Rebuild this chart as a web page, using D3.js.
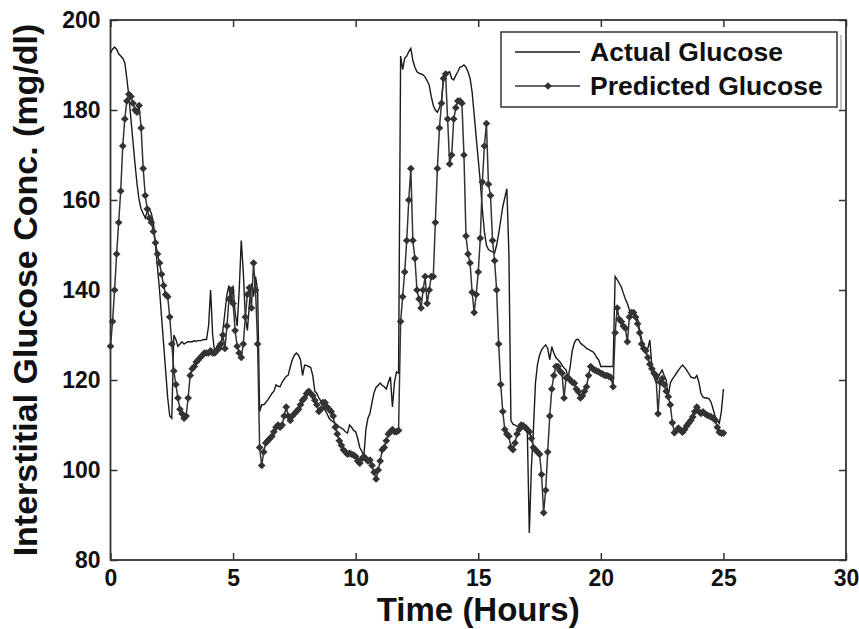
<!DOCTYPE html>
<html>
<head>
<meta charset="utf-8">
<script src="https://cdn.jsdelivr.net/npm/d3@7"></script>
<style>
  body { margin: 0; background: #fff; }
  text { font-family: "Liberation Sans", Arial, sans-serif; font-weight: bold; fill: #111; }
</style>
</head>
<body>
<div id="chart"></div>
<script>
const width = 859, height = 629;
const margin = { top: 20, right: 13, bottom: 69, left: 110.5 };

// CGM readings, one every 5 minutes from t = 0 h
const sampleMinutes = 5;
const xTicks = [0, 5, 10, 15, 20, 25, 30];
const yTicks = [80, 100, 120, 140, 160, 180, 200];
const seriesNames = ["Actual Glucose", "Predicted Glucose"];

const actual = [
  192.7, 193.5, 194, 193.5, 192.5, 192, 191.5, 190.5, 187, 183,
  178, 173, 168, 163.5, 160, 158, 157, 156, 157.5, 158,
  157, 155, 150, 145, 140, 134, 128, 122, 116, 112,
  111.5, 130, 129, 127.5, 128, 128.5, 128, 128.3, 128.5, 128.5,
  128.5, 128.7, 128.6, 128.8, 128.7, 128.9, 129, 129, 132, 140,
  130, 126, 127.5, 128, 127, 131, 135, 139, 141, 137,
  141, 135, 132, 140, 151, 144, 134, 131, 137, 141.5,
  138.5, 143, 140, 113, 114.5, 114.5, 115, 115.6, 116.3, 117,
  117.5, 118.9, 118.6, 118.5, 119.5, 120.2, 120.8, 121.1, 123, 124.5,
  125.5, 126, 125.5, 124.5, 121, 123.3, 123.2, 123, 122.8, 121,
  117.5, 117, 116, 115.3, 114.3, 113.3, 112.5, 111.5, 111, 110.7,
  110.4, 110, 109.6, 109.3, 109, 108.5, 108.2, 110, 109.5, 108.8,
  108.5, 107, 105, 104.2, 103, 109, 111.5, 112.6, 115, 117.2,
  118.4, 118.8, 119.3, 118.8, 118.5, 118, 119.5, 120.7, 114, 119.5,
  121.8, 121.5, 192, 189, 191.5, 192, 193, 193.7, 191, 189.5,
  188.5, 188.2, 188, 187.8, 187.3, 186.5, 185.5, 183, 181, 180,
  179.5, 180.5, 182, 187.4, 188.5, 188.3, 188.5, 187, 186.7, 187.7,
  188.5, 189.5, 189.7, 190, 189.5, 188.5, 187, 184, 179, 174,
  169, 164, 158, 153, 150, 149, 148.7, 148.5, 148.2, 150,
  152.5, 155.5, 158.5, 160.5, 162.5, 148, 111, 110.2, 110, 109.7,
  109.6, 110, 110.4, 109.5, 108.9, 86, 100.5, 109, 119.3, 123.5,
  125.5, 126.7, 127.3, 127.8, 127, 124.5, 127.4, 126, 125, 124.5,
  124, 123.3, 122.7, 122.2, 120.5, 123, 126.5, 128.2, 129, 129,
  128.2, 127.8, 127.5, 127, 126.8, 126.5, 126.3, 125.8, 125, 124.4,
  123, 123, 123, 123, 123, 123, 123, 143, 142.3, 141.5,
  140.7, 139.3, 138, 137, 135.5, 135, 135, 134.6, 133.5, 131,
  129, 127.4, 126.3, 127, 128.9, 123, 120.7, 119.5, 120.5, 121.5,
  122.2, 121, 120, 116.5, 119.3, 120.2, 120.8, 121.5, 122.2, 122.8,
  123.3, 122.8, 122.2, 121.5, 120.7, 120.5, 120.4, 121, 119.5, 117,
  116.2, 116, 116, 115.8, 115, 113.5, 111.8, 111, 110.4, 113,
  118
];

const predicted = [
  127.5, 133, 140, 148, 155, 162, 172, 178, 182, 183.5,
  183, 181.5, 180, 179.5, 181, 176, 167, 161, 158, 156,
  155, 153, 150.5, 148, 146, 143.5, 141, 139, 138.5, 134,
  128, 122, 119, 116, 113.5, 112.5, 111.5, 112, 116, 121,
  122.5, 123, 124, 124.5, 125, 125.5, 126, 126, 126, 126.5,
  126, 126, 126.5, 127, 128, 130, 127, 132, 138, 140,
  137, 131, 127.5, 126, 125, 128, 134, 139, 140.5, 136,
  146, 140, 128, 105, 101, 104, 106, 106.5, 107, 107.5,
  108.5, 109.5, 110, 109.5, 110, 112, 114, 112, 111, 112,
  112.5, 113, 113.5, 114.5, 115.5, 116, 117, 117.5, 117, 116.5,
  115.5, 114.5, 113, 113.5, 115, 115, 114, 113.5, 113, 112,
  109.5, 108, 106.5, 105.5, 104.5, 104, 103.5, 103.7, 103.5, 103.3,
  103, 102, 101.5, 102.5, 103, 102.5, 102, 102.2, 101, 99.5,
  98, 100, 102, 104.5, 105, 106.5, 108, 108.5, 109, 108.5,
  108.5, 108.8, 133, 138.5, 144, 151, 160, 167, 151, 147,
  140, 138, 136, 140, 143, 137, 140, 143, 143, 155,
  167, 176, 181.5, 187, 188, 178, 168, 170, 178, 180.5,
  182, 182, 181.5, 170, 152, 148, 146, 139.5, 135, 139,
  144, 151.5, 164, 172, 177, 163.5, 161, 151, 146.5, 140,
  128, 119, 113, 109, 108, 107.5, 105, 104.5, 106, 108,
  109, 110, 109.8, 109.5, 109, 108.5, 107, 105, 104.5, 104,
  103.5, 99, 90.5, 95.5, 104, 112, 118, 121, 123, 123,
  122, 121.5, 116, 120.5, 120.5, 120, 119.5, 119.3, 118, 117.4,
  116, 116.5, 117.5, 118.5, 121, 123, 122.5, 122.2, 122, 121.8,
  121.5, 121.3, 121, 121, 120.8, 120.5, 118.5, 130.5, 136, 133.5,
  133, 132, 131.5, 128.5, 134, 135, 135, 134, 132.5, 130.5,
  128, 127, 126.5, 125, 123.5, 122.5, 121.5, 121, 112.5, 119.5,
  120.3, 119, 117.5, 116.3, 114.5, 110.5, 108.3, 108.8, 109.3, 108.8,
  108.4, 109, 109.8, 110.4, 111, 111.8, 113, 114, 113, 112.6,
  112.9, 112.5, 112.2, 112, 111.8, 111.5, 111.1, 109.5, 108.4, 108.2,
  108.2
];

const hours = i => i * sampleMinutes / 60;

const svg = d3.select("#chart")
  .append("svg")
  .attr("width", width)
  .attr("height", height);

const x = d3.scaleLinear()
  .domain([0, 30])
  .range([margin.left, width - margin.right]);

const y = d3.scaleLinear()
  .domain([80, 200])
  .range([height - margin.bottom, margin.top]);

const axisColor = "#333";

function styleAxis(g) {
  g.select(".domain").remove();
  g.selectAll(".tick line").attr("stroke", axisColor).attr("stroke-width", 1.5);
  g.selectAll(".tick text").style("font-size", "23px").attr("fill", "#111");
}

svg.append("g")
  .attr("transform", `translate(0,${y(80)})`)
  .call(d3.axisBottom(x).tickValues(xTicks).tickSize(-7).tickPadding(10))
  .call(styleAxis);

svg.append("g")
  .attr("transform", `translate(0,${y(200)})`)
  .call(d3.axisTop(x).tickValues(xTicks).tickSize(-7).tickFormat(""))
  .call(styleAxis);

svg.append("g")
  .attr("transform", `translate(${x(0)},0)`)
  .call(d3.axisLeft(y).tickValues(yTicks).tickSize(-7).tickPadding(10))
  .call(styleAxis);

svg.append("g")
  .attr("transform", `translate(${x(30)},0)`)
  .call(d3.axisRight(y).tickValues(yTicks).tickSize(-7).tickFormat(""))
  .call(styleAxis);

svg.append("rect")
  .attr("x", x(0))
  .attr("y", y(200))
  .attr("width", x(30) - x(0))
  .attr("height", y(80) - y(200))
  .attr("fill", "none")
  .attr("stroke", axisColor)
  .attr("stroke-width", 1.8);

const line = d3.line()
  .x((d, i) => x(hours(i)))
  .y(d => y(d));

svg.append("path")
  .datum(actual)
  .attr("d", line)
  .attr("fill", "none")
  .attr("stroke", "#1a1a1a")
  .attr("stroke-width", 1.4);

svg.append("path")
  .datum(predicted)
  .attr("d", line)
  .attr("fill", "none")
  .attr("stroke", "#333")
  .attr("stroke-width", 1.5);

const diamond = d3.symbol().type(d3.symbolSquare).size(30);

svg.append("g")
  .selectAll("path")
  .data(predicted)
  .join("path")
  .attr("d", diamond)
  .attr("transform", (d, i) => `translate(${x(hours(i))},${y(d)}) rotate(45)`)
  .attr("fill", "#333");

// axis titles
svg.append("text")
  .attr("x", (x(0) + x(30)) / 2)
  .attr("y", 621)
  .attr("text-anchor", "middle")
  .style("font-size", "33px")
  .text("Time (Hours)");

svg.append("text")
  .attr("transform", `translate(37,${(y(80) + y(200)) / 2}) rotate(-90)`)
  .attr("text-anchor", "middle")
  .style("font-size", "34px")
  .text("Interstitial Glucose Conc. (mg/dl)");

// legend
const legend = svg.append("g");
legend.append("line")
  .attr("x1", 841).attr("x2", 841).attr("y1", 35).attr("y2", 110)
  .attr("stroke", "#999").attr("stroke-width", 1.2);
legend.append("rect")
  .attr("x", 501).attr("y", 32)
  .attr("width", 336).attr("height", 75)
  .attr("fill", "#fff")
  .attr("stroke", axisColor)
  .attr("stroke-width", 1.5);

const legendRows = [52, 86];
seriesNames.forEach((name, k) => {
  const ly = legendRows[k];
  legend.append("line")
    .attr("x1", 515).attr("x2", 580).attr("y1", ly).attr("y2", ly)
    .attr("stroke", k === 0 ? "#1a1a1a" : "#333")
    .attr("stroke-width", 1.4);
  if (k === 1) {
    legend.append("path")
      .attr("d", diamond)
      .attr("transform", `translate(548,${ly}) rotate(45)`)
      .attr("fill", "#333");
  }
  legend.append("text")
    .attr("x", 590)
    .attr("y", ly + 9)
    .style("font-size", "26.5px")
    .text(name);
});
</script>
</body>
</html>
